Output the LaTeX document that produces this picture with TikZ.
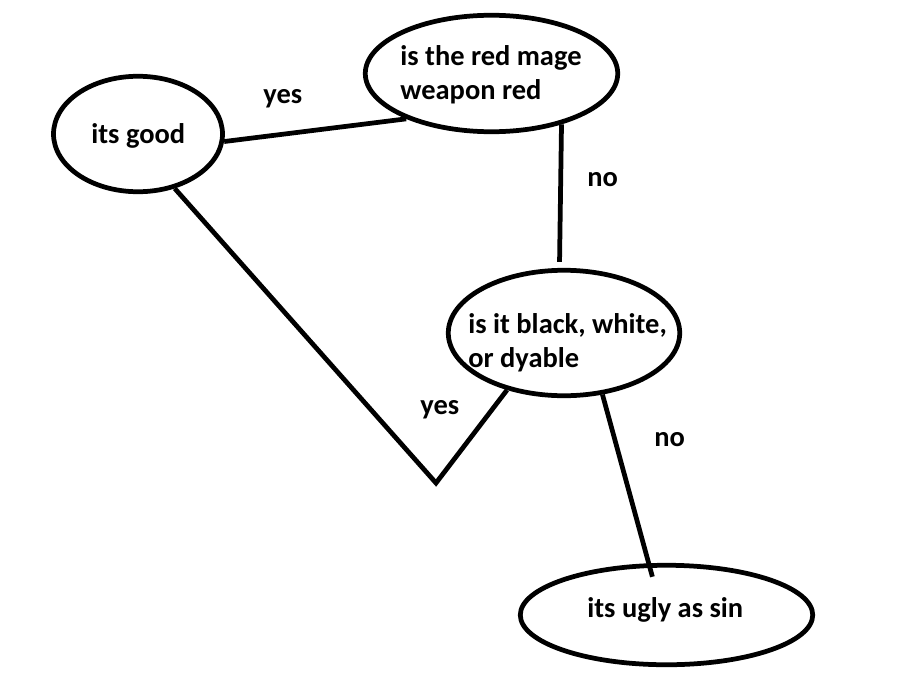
\documentclass[tikz,border=0pt]{standalone}
\usepackage{fontspec}
\setmainfont{Carlito}
\usetikzlibrary{shapes.geometric}

\begin{document}
\begin{tikzpicture}[x=0.02cm,y=-0.02cm]
\tikzset{bubble/.style={ellipse,draw,line width=0.095cm,inner sep=0pt},
  txt/.style={font=\bfseries\fontsize{16.2}{19.3}\selectfont,inner sep=0pt,anchor=base west,align=left},
  link/.style={line width=0.095cm}}
\useasboundingbox (0,0) rectangle (911,696);

\node[bubble,minimum width=3.38cm,minimum height=2.31cm] (good) at (138,134) {};
\node[bubble,minimum width=5.05cm,minimum height=2.33cm] (mage) at (491.5,73.5) {};
\node[bubble,minimum width=4.63cm,minimum height=2.51cm] (black) at (564,333) {};
\node[bubble,minimum width=5.85cm,minimum height=1.99cm] (ugly) at (666.5,615) {};
\coordinate (vtip) at (436,483);

\node[txt] (goodtxt) at (91,143) {its good};
\node[txt] (magetxt) at (400,99) {is the red mage\\weapon red};
\node[txt] (blacktxt) at (468,367) {is it black, white,\\or dyable};
\node[txt] (uglytxt) at (587,617) {its ugly as sin};

\draw[link] (good.-5) -- (mage.208);
\draw[link,shorten >=0.12cm] (mage.-36) -- (black.94);
\draw[link] (good.-56) -- (vtip) -- (black.225);
\draw[link,shorten >=-0.28cm] (black.-58) -- (ugly.109);

\node[txt] (yes1) at (263,103) {yes};
\node[txt] (no1) at (587,186) {no};
\node[txt] (yes2) at (420,414) {yes};
\node[txt] (no2) at (654,446) {no};

\end{tikzpicture}
\end{document}
